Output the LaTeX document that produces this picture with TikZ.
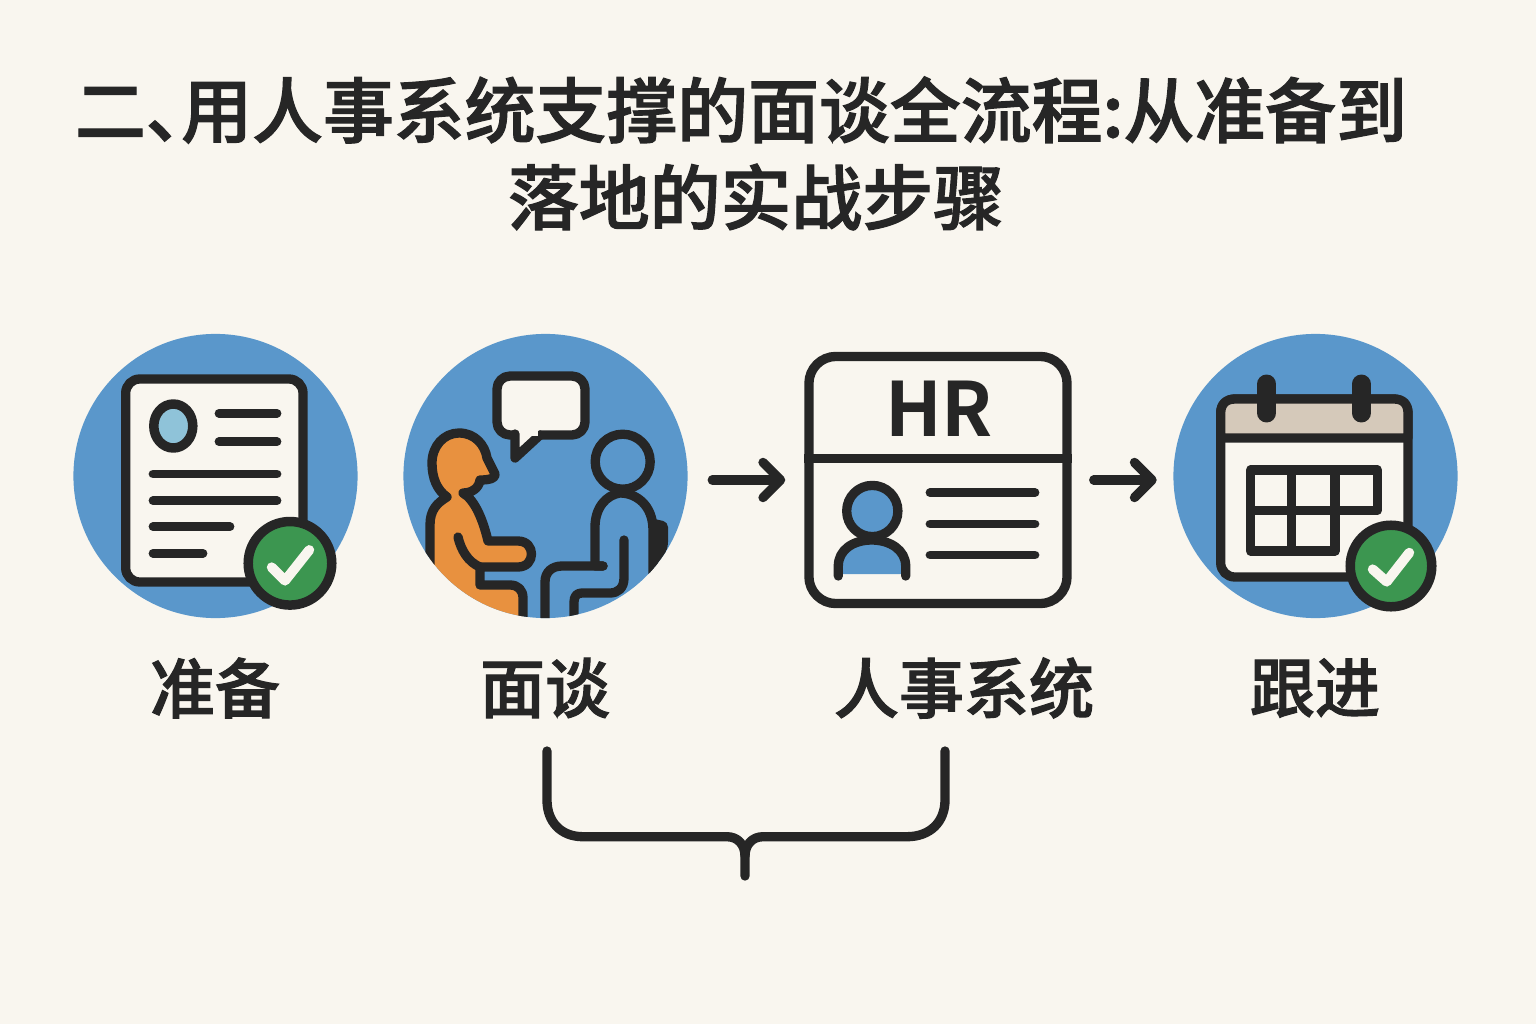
\documentclass[tikz,border=0pt]{standalone}
\usepackage{fontspec}
\usetikzlibrary{arrows.meta}
\setmainfont{Noto Sans CJK SC Medium}[FakeBold=1.6, BoldFont=Noto Sans CJK SC Bold, BoldFeatures={FakeBold=0}]

\definecolor{paper}{HTML}{F9F6EF}
\definecolor{inkdark}{HTML}{262626}
\definecolor{discblue}{HTML}{5A97CB}
\definecolor{skinorange}{HTML}{E8913F}
\definecolor{badgegreen}{HTML}{3C9650}
\definecolor{faceblue}{HTML}{8FC3D9}
\definecolor{headertan}{HTML}{D5C9BA}

\tikzset{
    iconline/.style={draw=inkdark, line width=2.65pt, line cap=round, line join=round},
    thinbar/.style={iconline, line width=2.5pt},
    bluedisc/.style={circle, fill=discblue, minimum size=2.84cm, inner sep=0pt},
    okbadge/.style={circle, draw=inkdark, fill=badgegreen, line width=2.7pt, minimum size=#1, inner sep=0pt},
    ticksign/.style={draw=paper, line width=2.8pt, line cap=round, line join=round},
    steplabel/.style={font=\fontsize{18.5}{22}\selectfont, text=inkdark, inner sep=0pt},
    titleline/.style={font=\fontsize{20.15}{24}\selectfont, text=inkdark, inner sep=0pt},
    flowarrow/.style={iconline, -{Straight Barb[round, length=5pt, width=10pt]}},
}

\begin{document}
\begin{tikzpicture}[x=0.01cm, y=-0.01cm]
    \useasboundingbox (0,0) rectangle (1536,1024);
    \fill[paper] (0,0) rectangle (1536,1024);

    % Title
    \node[titleline] (titletop) at (741,110) {二、\kern-.5em用人事系统支撑的面谈全流程:从准备到};
    \node[titleline] (titlelow) at (756,197) {落地的实战步骤};

    % Discs and card
    \node[bluedisc] (prep) at (215.5,476) {};
    \node[bluedisc] (talk) at (545.5,476) {};
    \node[bluedisc] (cal) at (1315.5,476) {};
    \node[rounded corners=0.27cm, draw=inkdark, fill=paper, line width=2.65pt, minimum width=2.58cm, minimum height=2.47cm, inner sep=0pt] (hrcard) at (938,480) {};

    % Document icon
    \draw[iconline, fill=paper, rounded corners=0.14cm] (125.7,379) rectangle (303,582);
    \draw[iconline, line width=2.7pt, fill=faceblue] (173.3,426) ellipse (19.5 and 22);
    \foreach \y/\xa/\xb in {413.3/219/277, 441.7/219/277, 474/153/277, 500.7/153/277, 526.7/153/230, 553.3/153/203}
        \draw[thinbar] (\xa,\y) -- (\xb,\y);
    \node[okbadge=0.835cm] (prepbadge) at (290,563.3) {};
    \draw[ticksign] (271.7,567.3) -- (285,580.7) -- (309.3,550);

    % Interview icon
    \begin{scope}
        \clip (talk.center) circle (1.42cm);
        % Orange person
        \draw[iconline, fill=skinorange] (430,640) -- (430,525) .. controls (430,510) and (437,503) .. (447,497)
            .. controls (437,490) and (432,478) .. (432,463) .. controls (432,446) and (444,433) .. (459,433)
            .. controls (475,433) and (485,445) .. (487,458) -- (495,474) .. controls (496,478) and (490,480) .. (480,480)
            .. controls (479,488) and (472,493) .. (463,493) .. controls (475,500) and (483,520) .. (488,541)
            -- (518,541) .. controls (536,541) and (536,567) .. (518,567) -- (480,567) -- (480,585) -- (510,585)
            .. controls (518,585) and (523,590) .. (523,598) -- (523,640) -- cycle;
        \draw[iconline] (458,537) .. controls (461,550) and (468,562) .. (480,567);
        % Blue person
        \fill[inkdark, rounded corners=0.05cm] (650,518) -- (668,522) -- (668,547) -- (650,590) -- cycle;
        \draw[iconline] (622.7,461.7) circle (27.5);
        \draw[iconline] (603,566) -- (595,566) -- (595,527) .. controls (595,508) and (606,495) .. (620,493)
            .. controls (636,493) and (653,505) .. (653,530) -- (653,600);
        \draw[iconline] (603,566) -- (562,566) .. controls (552,566) and (545,572) .. (545,582) -- (545,640);
        \draw[iconline] (624,540) -- (624,578) .. controls (624,588) and (618,593) .. (610,593) -- (582,593)
            .. controls (577,593) and (574,596) .. (574,602) -- (574,640);
    \end{scope}
    % Speech bubble
    \draw[iconline, fill=paper, rounded corners=0.13cm] (540,435) -- (585,435) -- (585,376) -- (497,376) -- (497,435) -- (515,435);
    \draw[iconline, fill=paper] (515,434) -- (515,458) -- (540,435);
    \fill[paper] (519.5,430) rectangle (538,436);

    % HR card contents
    \draw[iconline, line cap=butt] (hrcard.west |- 0,458.3) -- (hrcard.east |- 0,458.3);
    \node[font=\fontsize{21.3}{26}\selectfont\bfseries, text=inkdark, inner sep=0pt] (hrtext) at (939,409) {HR};
    \fill[discblue] (838.3,574) -- (838.3,566) .. controls (838.3,550) and (853,540) .. (871.7,540)
        .. controls (890,540) and (905.7,550) .. (905.7,566) -- (905.7,574) -- cycle;
    \draw[iconline] (838.3,576) -- (838.3,566) .. controls (838.3,550) and (853,540) .. (871.7,540)
        .. controls (890,540) and (905.7,550) .. (905.7,566) -- (905.7,576);
    \draw[iconline, fill=discblue] (872.3,511) circle (25.6);
    \foreach \y in {492.7, 524, 555}
        \draw[thinbar] (930,\y) -- (1035,\y);

    % Calendar icon
    \draw[iconline, fill=paper, rounded corners=0.14cm] (1220.7,399) rectangle (1408,577);
    \draw[iconline, fill=headertan] (1220.7,438) -- (1220.7,413) .. controls (1220.7,404) and (1226,399) .. (1235,399)
        -- (1394,399) .. controls (1403,399) and (1408,404) .. (1408,413) -- (1408,438) -- cycle;
    \foreach \x in {1266.7, 1361.3}
        \draw[iconline, line width=5.4pt] (\x,384) -- (\x,413);
    \draw[iconline] (1250.7,470) rectangle (1377.3,510.3);
    \draw[iconline] (1250.7,510.3) rectangle (1335,551);
    \draw[iconline] (1291.7,470) -- (1291.7,551);
    \draw[iconline] (1335,470) -- (1335,510.3);
    \node[okbadge=0.815cm] (calbadge) at (1391,566) {};
    \draw[ticksign] (1372.7,569.3) -- (1386.7,581.7) -- (1409.3,552.7);

    % Arrows
    \draw[flowarrow, shorten <=0.24cm, shorten >=0.19cm] (talk.east |- hrcard.west) -- (hrcard.west);
    \draw[flowarrow, shorten <=0.22cm, shorten >=0.16cm] (hrcard.east) -- (hrcard.east -| cal.west);

    % Labels
    \node[steplabel] (preplabel) at (215,688) {准备};
    \node[steplabel] (talklabel) at (545,688) {面谈};
    \node[steplabel] (hrlabel) at (964,688) {人事系统};
    \node[steplabel] (callabel) at (1315,688) {跟进};

    % Brace under the two middle labels
    \coordinate (braceleft) at (547,751);
    \coordinate (braceright) at (945,751);
    \coordinate (bracetip) at (745,876);
    \draw[iconline] (braceleft) -- (547,800) .. controls (547,822) and (561,836.7) .. (583,836.7) -- (727,836.7)
        .. controls (738,836.7) and (745,845) .. (745,856) -- (bracetip);
    \draw[iconline] (braceright) -- (945,800) .. controls (945,822) and (930,836.7) .. (907,836.7) -- (763,836.7)
        .. controls (752,836.7) and (745,845) .. (745,856);
\end{tikzpicture}
\end{document}
